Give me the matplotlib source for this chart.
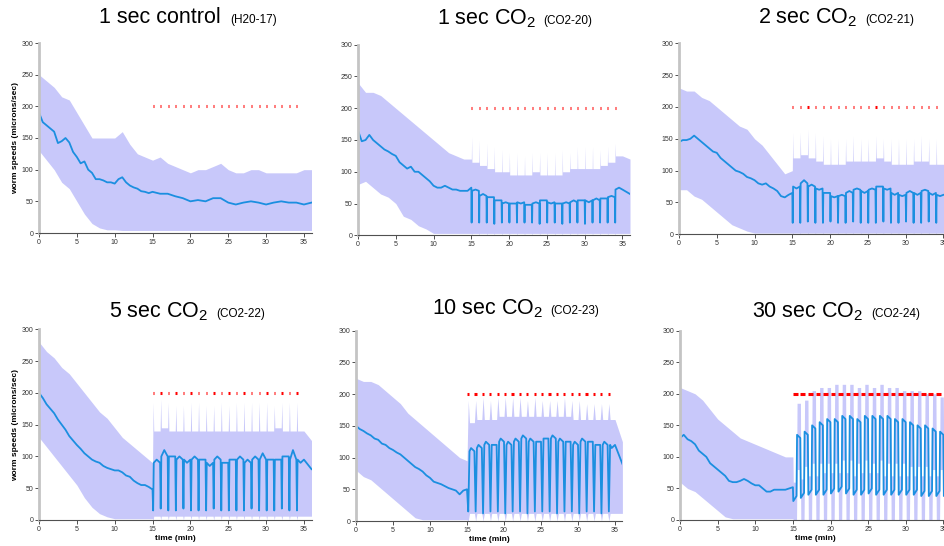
import numpy as np
import matplotlib
matplotlib.use('Agg')
import matplotlib.pyplot as plt

plt.rcParams['font.family'] = ['Liberation Sans', 'DejaVu Sans']
plt.rcParams['mathtext.fontset'] = 'custom'
plt.rcParams['mathtext.rm'] = 'Liberation Sans'

# ---- data ----------------------------------------------------------------
titles = ['1 sec control', '1 sec CO$_2$', '2 sec CO$_2$',
          '5 sec CO$_2$', '10 sec CO$_2$', '30 sec CO$_2$']
codes = ['(H20-17)', '(CO2-20)', '(CO2-21)', '(CO2-22)', '(CO2-23)', '(CO2-24)']
pulse_sec = [1, 1, 2, 5, 10, 30]
pulse_start = np.arange(15, 35)          # one pulse per minute, 15..34 min
marker_level = 200

t_pre = np.arange(0, 15.01, 0.5)         # mean before stimulation
t_band = np.arange(0, 16)                # band before stimulation

# control (H20-17)
ctrl_pre = [190, 175, 170, 165, 160, 142, 145, 150, 143, 128, 120, 110, 113, 100, 95, 85,
            85, 83, 80, 80, 78, 85, 88, 80, 75, 72, 70, 66, 65, 63, 65]
t_ctrl_post = np.arange(16, 37)
ctrl_post = [62, 62, 58, 55, 50, 52, 50, 55, 55, 48, 45, 48, 50, 48, 45, 48, 50, 48, 48, 45, 48]
ctrl_up = [250, 240, 230, 215, 210, 190, 170, 150, 150, 150, 150, 160, 140, 125, 120, 115,
           120, 110, 105, 100, 95, 100, 100, 105, 110, 100, 95, 95, 100, 100, 95, 95, 95, 95, 95, 100, 100]
ctrl_lo = [130, 115, 100, 80, 70, 50, 30, 15, 8, 5, 5, 4, 4, 4, 4, 4,
           4, 4, 4, 4, 4, 4, 4, 4, 4, 4, 4, 4, 4, 4, 4, 4, 4, 4, 4, 4, 4]

# 1 sec CO2 (CO2-20)
co20_pre = [165, 148, 150, 158, 150, 145, 140, 135, 132, 128, 125, 115, 110, 105, 108, 100,
            100, 95, 90, 85, 78, 75, 75, 78, 75, 72, 72, 70, 70, 70, 75]
co20_up_pre = [240, 225, 225, 220, 210, 200, 190, 180, 170, 160, 150, 140, 130, 125, 120, 120]
co20_lo_pre = [80, 85, 75, 65, 60, 50, 30, 25, 15, 10, 3, 3, 3, 3, 3, 3]
co20_lvl = [75, 70, 62, 60, 55, 50, 50, 52, 48, 50, 55, 52, 50, 50, 52, 55, 55, 55, 58, 60, 72, 65]
co20_dip = [20, 20, 20, 18, 20, 20, 20, 20, 20, 18, 20, 20, 18, 20, 20, 18, 20, 20, 20, 20]
co20_mid = [72, 65, 60, 55, 52, 50, 50, 48, 52, 55, 50, 50, 52, 55, 55, 52, 58, 58, 62, 75]
co20_top = [120, 115, 110, 105, 100, 100, 95, 95, 95, 100, 95, 95, 95, 100, 105, 105,
            105, 105, 110, 115, 125, 120]
co20_spike = [155, 150, 145, 140, 135, 130, 130, 125, 130, 130, 130, 130, 135, 130, 140, 140,
              140, 135, 140, 145]
co20_bot = [3] * 22

# 2 sec CO2 (CO2-21)
co21_pre = [145, 148, 148, 150, 155, 150, 145, 140, 135, 130, 128, 120, 115, 110, 105, 100,
            98, 95, 90, 88, 85, 80, 78, 80, 75, 72, 68, 60, 58, 62, 65]
co21_up_pre = [230, 225, 225, 215, 210, 200, 190, 180, 170, 165, 150, 140, 125, 110, 95, 100]
co21_lo_pre = [70, 70, 60, 55, 45, 35, 25, 15, 10, 5, 2, 2, 2, 2, 2, 2]
co21_lvl = [65, 75, 80, 75, 72, 65, 60, 60, 65, 70, 68, 70, 75, 72, 65, 62, 65, 65, 68, 65, 62, 65]
co21_dip = [18, 18, 20, 18, 18, 20, 18, 18, 20, 18, 18, 18, 20, 18, 18, 20, 18, 18, 20, 18]
co21_mid = [72, 85, 78, 70, 65, 58, 62, 68, 72, 65, 72, 75, 70, 62, 60, 68, 62, 70, 62, 60]
co21_top = [100, 120, 125, 120, 115, 110, 110, 110, 115, 115, 115, 115, 120, 115, 110, 110,
            110, 115, 115, 110, 110, 110]
co21_spike = [160, 160, 165, 160, 155, 150, 150, 150, 155, 150, 150, 155, 150, 150, 150, 150,
              150, 155, 150, 150]
co21_bot = [2] * 22

# 5 sec CO2 (CO2-22)
co22_pre = [200, 192, 182, 175, 168, 158, 150, 142, 132, 125, 118, 112, 105, 100, 95, 92,
            90, 85, 82, 80, 78, 78, 75, 70, 68, 62, 58, 55, 55, 52, 48]
co22_up_pre = [280, 265, 255, 240, 230, 215, 200, 185, 170, 160, 145, 130, 120, 110, 100, 90]
co22_lo_pre = [130, 115, 100, 85, 70, 55, 35, 20, 10, 5, 2, 2, 2, 2, 2, 2]
co22_lvl = [48, 90, 100, 100, 95, 95, 95, 95, 90, 95, 90, 95, 95, 90, 95, 95, 95, 95, 100, 95, 95, 80]
co22_dip = [15, 18, 15, 15, 18, 15, 15, 15, 18, 15, 15, 15, 15, 18, 15, 15, 15, 18, 15, 15]
co22_mid = [95, 110, 100, 100, 90, 100, 95, 85, 100, 90, 95, 100, 95, 100, 105, 95, 95, 100, 110, 90]
co22_top = [90, 140, 145, 140, 140, 140, 140, 140, 140, 140, 140, 140, 140, 140, 140, 140,
            140, 145, 140, 140, 140, 125]
co22_spike = [185, 190, 185, 180, 180, 185, 185, 180, 180, 185, 180, 185, 185, 185, 185, 185,
              180, 185, 185, 185]
co22_bot = [2] + [6] * 21

# 10 sec CO2 (CO2-23)
co23_pre = [150, 145, 142, 138, 135, 130, 128, 122, 120, 115, 112, 108, 105, 100, 95, 90,
            85, 82, 78, 72, 68, 62, 60, 58, 55, 52, 50, 48, 42, 48, 50]
co23_up_pre = [225, 220, 220, 215, 205, 195, 185, 170, 160, 150, 140, 130, 120, 110, 100, 95]
co23_lo_pre = [80, 70, 65, 55, 45, 35, 25, 15, 5, 2, 2, 2, 2, 2, 2, 2]
co23_lvl = [50, 110, 115, 120, 120, 125, 120, 125, 130, 125, 125, 130, 130, 125, 125, 120,
            125, 125, 120, 120, 120, 90]
co23_dip = [15, 15, 12, 15, 15, 12, 15, 15, 12, 15, 15, 15, 12, 15, 15, 12, 15, 15, 12, 15]
co23_mid = [115, 120, 125, 120, 130, 125, 130, 135, 130, 125, 130, 135, 130, 125, 125, 130,
            125, 120, 125, 115]
co23_top = [95, 155, 160, 160, 160, 165, 165, 165, 165, 165, 165, 165, 165, 165, 165, 160,
            160, 160, 160, 160, 160, 125]
co23_spike = [190, 190, 195, 190, 195, 195, 195, 195, 190, 195, 190, 190, 190, 195, 190, 190,
              185, 185, 185, 185]
co23_bot = [2] + [12] * 21

# 30 sec CO2 (CO2-24)
co24_pre = [130, 135, 128, 125, 120, 110, 105, 100, 90, 85, 80, 75, 70, 62, 60, 60,
            62, 65, 62, 58, 55, 55, 50, 45, 45, 48, 48, 48, 48, 50, 52]
co24_up_pre = [210, 205, 200, 190, 175, 160, 150, 140, 130, 125, 120, 115, 110, 105, 100, 100]
co24_lo_pre = [60, 50, 45, 35, 25, 15, 5, 2, 2, 2, 2, 2, 2, 2, 2, 2]
co24_hi = [135, 140, 150, 155, 160, 160, 165, 165, 160, 165, 165, 165, 165, 160, 160, 155,
           150, 150, 145, 140]
co24_lo = [30, 35, 40, 40, 40, 42, 45, 42, 40, 40, 42, 40, 40, 40, 40, 40, 40, 38, 38, 38]
co24_hi_top = [185, 190, 205, 210, 210, 215, 215, 215, 210, 215, 210, 215, 210, 210, 205, 205,
               205, 200, 200, 195]
co24_lo_top = [60, 65, 70, 70, 75, 75, 75, 75, 70, 75, 75, 75, 70, 70, 70, 70, 70, 70, 70, 70]
co24_hi_bot = [80, 85, 90, 90, 90, 90, 95, 95, 90, 95, 90, 95, 90, 90, 90, 85, 85, 85, 80, 80]


def spike_series(pre, up_pre, lo_pre, lvl, dip, mid, top, spike, bot, w):
    t, m = list(t_pre), list(pre)
    tb = list(t_band[:-1])
    up = list(up_pre[:-1])
    lo = list(lo_pre[:-1])
    for i, t0 in enumerate(pulse_start):
        tt = [t0, t0 + w, t0 + 2 * w, t0 + 0.55]
        if i == 0:
            t += tt[1:]
            m += [dip[i], lvl[i + 1], mid[i]]
        else:
            t += tt
            m += [lvl[i], dip[i], lvl[i + 1], mid[i]]
        tb += tt
        up += [top[i], spike[i], top[i + 1], top[i + 1]]
        lo += [bot[i], 0, bot[i + 1], bot[i + 1]]
    t += [35, 36]
    m += [lvl[20], lvl[21]]
    tb += [35, 36]
    up += [top[20], top[21]]
    lo += [bot[20], bot[21]]
    return t, m, tb, up, lo


def square_series():
    t, m = list(t_pre), list(co24_pre)
    tb, up, lo = list(t_band[:-1]), list(co24_up_pre[:-1]), list(co24_lo_pre[:-1])
    up_prev, lo_prev = co24_up_pre[-1], co24_lo_pre[-1]
    for i, t0 in enumerate(pulse_start):
        tt = [t0, t0 + 0.05, t0 + 0.48, t0 + 0.55, t0 + 0.98]
        t += tt[1:]
        m += [co24_lo[i], co24_lo[i] + 8, co24_hi[i], co24_hi[i] - 5]
        tb += tt
        up += [up_prev, co24_lo_top[i], co24_lo_top[i], co24_hi_top[i], co24_hi_top[i]]
        lo += [lo_prev, 0, 0, co24_hi_bot[i], co24_hi_bot[i]]
        up_prev, lo_prev = co24_hi_top[i], co24_hi_bot[i]
    t += [35.05, 36]
    m += [co24_lo[-1], co24_lo[-1]]
    tb += [35.05, 36]
    up += [co24_lo_top[-1], co24_lo_top[-1]]
    lo += [0, 0]
    return t, m, tb, up, lo


series = []
series.append((list(t_pre) + list(t_ctrl_post), ctrl_pre + ctrl_post,
               np.arange(0, 37), ctrl_up, ctrl_lo))
series.append(spike_series(co20_pre, co20_up_pre, co20_lo_pre, co20_lvl, co20_dip, co20_mid,
                           co20_top, co20_spike, co20_bot, 0.04))
series.append(spike_series(co21_pre, co21_up_pre, co21_lo_pre, co21_lvl, co21_dip, co21_mid,
                           co21_top, co21_spike, co21_bot, 0.05))
series.append(spike_series(co22_pre, co22_up_pre, co22_lo_pre, co22_lvl, co22_dip, co22_mid,
                           co22_top, co22_spike, co22_bot, 0.08))
series.append(spike_series(co23_pre, co23_up_pre, co23_lo_pre, co23_lvl, co23_dip, co23_mid,
                           co23_top, co23_spike, co23_bot, 0.17))
series.append(square_series())

# ---- layout (pixels: left, top, right, bottom) ----------------------------
W, H = 944, 546
boxes = [(39, 43, 311.5, 233), (358, 44.7, 630, 235.3), (679, 43.3, 951, 234.3),
         (39, 329.3, 311.5, 520), (356, 330.7, 622.4, 521), (680, 330.7, 951, 520)]
title_pos = [(99, 23, 230), (437, 24, 543), (758, 23, 865),
             (109, 317, 216), (432, 314, 550), (752, 317, 871)]

band_col = '#c8c8fa'
line_col = '#1b8fe0'

fig = plt.figure(figsize=(W / 100, H / 100), dpi=100)

for k in range(6):
    l, tp, r, b = boxes[k]
    ax = fig.add_axes([l / W, 1 - b / H, (r - l) / W, (b - tp) / H])
    t, m, tb, up, lo = series[k]
    ax.fill_between(tb, lo, up, color=band_col, lw=0, zorder=1)
    ax.plot(t, m, color=line_col, lw=1.3, zorder=2)
    d = pulse_sec[k]
    red = ax.hlines([marker_level] * len(pulse_start), pulse_start,
                    pulse_start + d / 60 + 0.12, color='red', lw=2.2, zorder=3)
    red.set_capstyle('butt')

    ax.set_xlim(0, 36)
    ax.set_ylim(0, 300)
    ax.set_xticks(range(0, 36, 5))
    ax.set_yticks(range(0, 301, 50))
    for s in ['top', 'right']:
        ax.spines[s].set_visible(False)
    ax.spines['left'].set_color('#c4c4c4')
    ax.spines['left'].set_linewidth(2)
    ax.spines['bottom'].set_color('#505050')
    ax.spines['bottom'].set_linewidth(0.8)
    ax.tick_params(labelsize=5, length=3, width=0.6, colors='#333333', pad=1)
    if k in (0, 3):
        ax.set_ylabel('worm speeds (microns/sec)', fontsize=6, fontweight='bold')
        ax.yaxis.set_label_coords(-20 / (r - l), 0.5)
    if k >= 3:
        ax.set_xlabel('time (min)', fontsize=6, fontweight='bold', labelpad=1.5)

    x_big, y_base, x_small = title_pos[k]
    fig.text(x_big / W, 1 - y_base / H, titles[k], fontsize=15.5, va='baseline', ha='left')
    fig.text(x_small / W, 1 - y_base / H, codes[k], fontsize=8.5, va='baseline', ha='left')

fig.savefig('out.png', dpi=100)
